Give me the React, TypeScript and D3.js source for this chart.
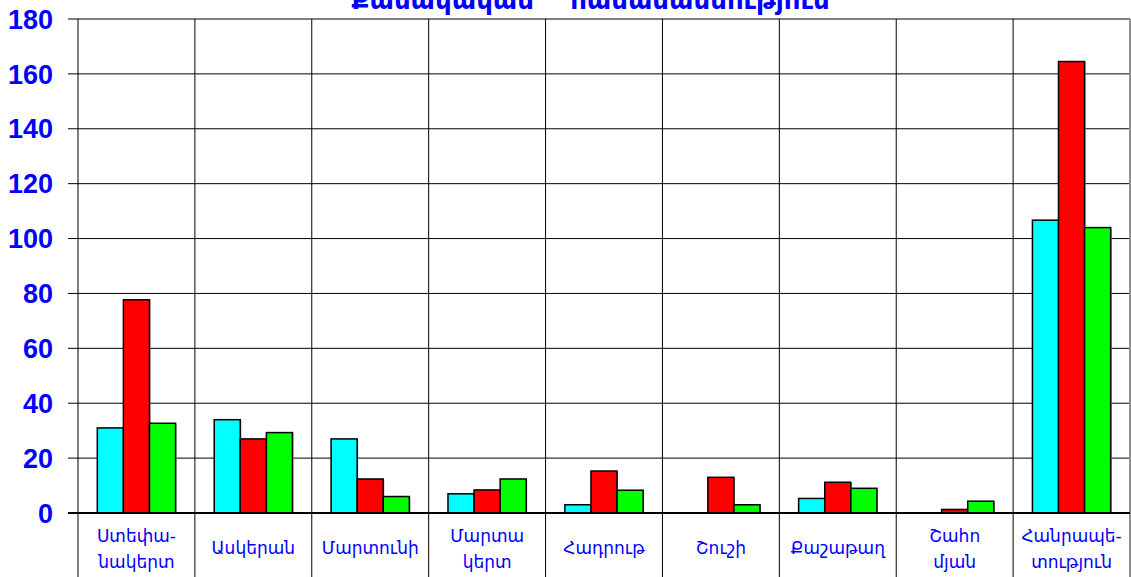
import React from "react";
import * as d3 from "d3";

const categories: string[][] = [
  ["Ստեփա-", "նակերտ"],
  ["Ասկերան"],
  ["Մարտունի"],
  ["Մարտա", "կերտ"],
  ["Հադրութ"],
  ["Շուշի"],
  ["Քաշաթաղ"],
  ["Շահո", "մյան"],
  ["Հանրապե-", "տություն"],
];
const catKeys = categories.map((c) => c.join(""));
const seriesNames = ["s1", "s2", "s3"];
const seriesColors = ["#00ffff", "#ff0000", "#00ff00"];
const cyanValues = [31, 34, 27, 7, 3, 0, 5.3, 0, 106.7];
const redValues = [77.7, 27, 12.4, 8.4, 15.3, 13, 11.2, 1.3, 164.5];
const greenValues = [32.7, 29.3, 6, 12.4, 8.3, 3, 9, 4.3, 104];
const seriesValues = [cyanValues, redValues, greenValues];
const yTicks = [0, 20, 40, 60, 80, 100, 120, 140, 160, 180];
const titleWords = ["Քանակական", "համամասնություն"];

const W = 1131;
const H = 577;
const left = 78;
const right = 1130;
const top = 19;
const bottom = 513;

export default function App() {
  const x = d3.scaleBand<string>().domain(catKeys).range([left, right]).paddingInner(0).paddingOuter(0);
  const xs = d3
    .scaleBand<string>()
    .domain(seriesNames)
    .range([0, x.bandwidth()])
    .paddingInner(0)
    .paddingOuter(0.74);
  const y = d3.scaleLinear().domain([0, 180]).range([bottom, top]);
  const blue = "#0000ff";
  const boundaries = catKeys.map((k) => x(k) as number).concat([right]);

  return (
    <div style={{ position: "absolute", left: 0, top: 0 }}>
      <svg width={W} height={H} style={{ display: "block" }}>
        <rect x={0} y={0} width={W} height={H} fill="#ffffff" />
        {/* title (cut off at top, as in the reference) */}
        <text
          x={(333 + 848) / 2}
          y={9}
          textAnchor="middle"
          fill={blue}
          fontFamily="DejaVu Sans"
          fontWeight="bold"
          fontSize={26}
        >
          {titleWords.join("\u00a0\u00a0\u00a0\u00a0")}
        </text>
        {/* horizontal gridlines */}
        {yTicks.map((t) => (
          <line
            key={"h" + t}
            x1={68}
            x2={right}
            y1={y(t)}
            y2={y(t)}
            stroke={t === 180 ? "#808080" : "#000"}
            strokeWidth={t === 0 ? 2 : t === 180 ? 2 : 1}
          />
        ))}
        {/* vertical gridlines */}
        {boundaries.map((bx, i) => (
          <line
            key={"v" + i}
            x1={bx}
            x2={bx}
            y1={top}
            y2={H}
            stroke={i === boundaries.length - 1 ? "#909090" : "#000"}
            strokeWidth={i === boundaries.length - 1 ? 2 : 1}
          />
        ))}
        {/* y tick labels */}
        {yTicks.map((t) => (
          <text
            key={"yl" + t}
            x={53}
            y={y(t)}
            dy="0.36em"
            textAnchor="end"
            fill={blue}
            fontFamily="Liberation Sans"
            fontWeight="bold"
            fontSize={27}
          >
            {t}
          </text>
        ))}
        {/* bars */}
        {catKeys.map((k, ci) =>
          seriesNames.map((s, si) => {
            const v = seriesValues[si][ci];
            if (!v) return null;
            const bx = (x(k) as number) + (xs(s) as number);
            const bw = xs.bandwidth();
            const by = y(v);
            const bh = y(0) - y(v);
            return (
              <g key={k + s}>
                <rect x={bx + 1} y={by + 1} width={bw} height={bh} fill="#a0a0a0" />
                <rect x={bx} y={by} width={bw} height={bh} fill={seriesColors[si]} stroke="#000" strokeWidth={1.5} />
              </g>
            );
          })
        )}
        <line x1={68} x2={right} y1={bottom} y2={bottom} stroke="#000" strokeWidth={2} />
        {/* category labels */}
        {categories.map((lines, ci) => {
          const cx = (x(catKeys[ci]) as number) + x.bandwidth() / 2;
          const y0 = lines.length === 1 ? 554 : 542;
          return (
            <text
              key={"c" + ci}
              textAnchor="middle"
              fill={blue}
              fontFamily="DejaVu Sans"
              fontSize={17}
            >
              {lines.map((ln, li) => (
                <tspan key={li} x={cx} y={y0 + li * 26}>
                  {ln}
                </tspan>
              ))}
            </text>
          );
        })}
      </svg>
    </div>
  );
}
